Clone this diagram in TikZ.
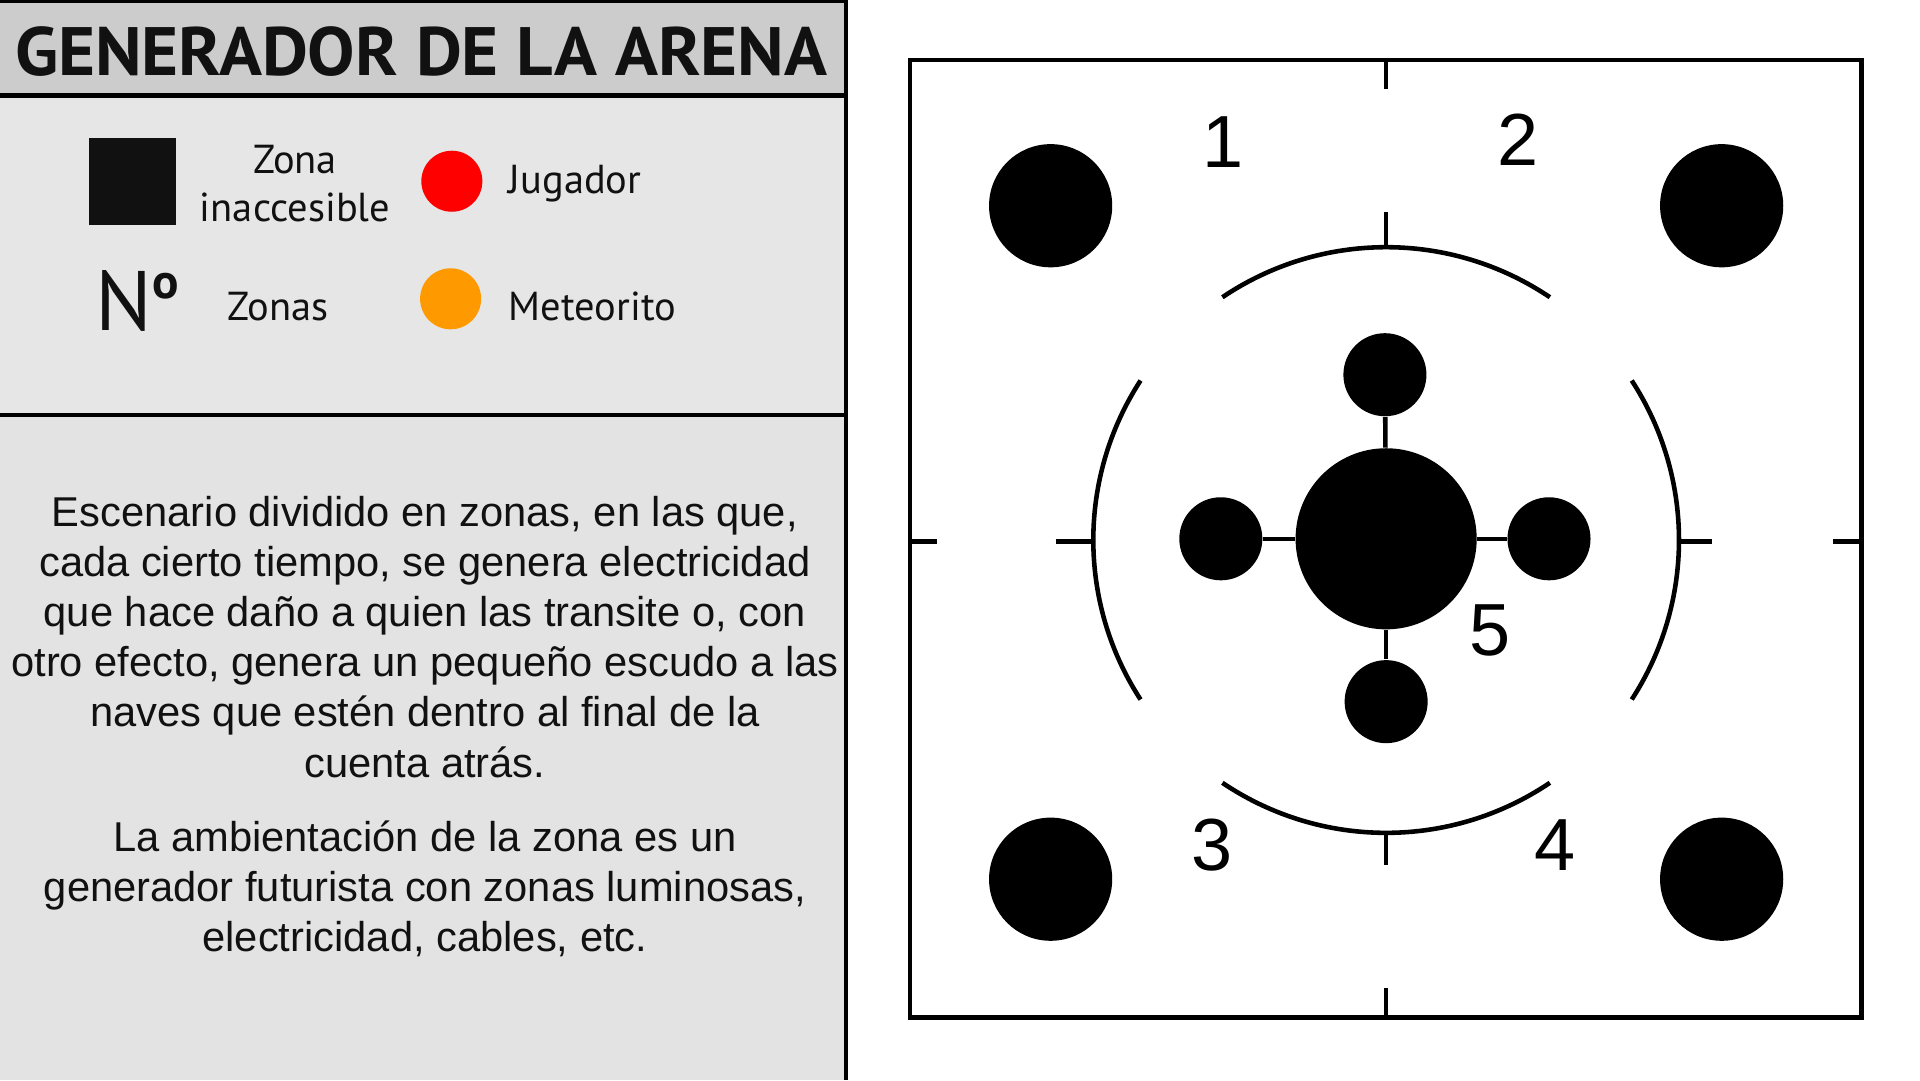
\documentclass[tikz,border=0pt]{standalone}
\usepackage{graphicx}
\usepackage{fontspec}
\setmainfont{Liberation Sans}
\newfontfamily\legendfont{PT Sans}
\usetikzlibrary{positioning}

\definecolor{bandgray}{HTML}{CCCCCC}
\definecolor{keygray}{HTML}{E6E6E6}
\definecolor{notegray}{HTML}{E3E3E3}
\definecolor{meteor}{HTML}{FF9900}
\definecolor{ink}{HTML}{111111}

\tikzset{
  rim/.style={line width=1.3pt},
  wire/.style={line width=1.3pt},
  hub/.style={circle, fill=black, inner sep=0pt, minimum size=1.81cm},
  pod/.style={circle, fill=black, inner sep=0pt, minimum size=0.83cm},
  pillar/.style={circle, fill=black, draw=black, line width=0.6pt, inner sep=0pt, minimum size=1.21cm},
  zonenum/.style={font=\fontsize{21}{21}\selectfont, inner sep=0pt},
  keytext/.style={font=\legendfont\fontsize{11.5}{13.6}\selectfont, inner sep=0pt, text=ink},
  note/.style={font=\fontsize{11.85}{14.28}\selectfont, align=center, inner sep=0pt, text=ink},
}

\begin{document}
\begin{tikzpicture}[x=0.012245cm, y=-0.012245cm]

  \useasboundingbox[fill=white] (0,0) rectangle (1568,882);

  %--- left panel: title, legend, notes ---
  \fill[bandgray] (0,0) rectangle (691,78);
  \fill[keygray] (0,78) rectangle (691,339);
  \fill[notegray] (0,339) rectangle (691,882);
  \draw[line width=1pt] (0,1) -- (691,1);
  \draw[line width=1.3pt] (0,78) -- (691,78);
  \draw[line width=1.3pt] (0,339) -- (691,339);
  \draw[line width=1pt] (691,0) -- (691,882);

  \node[inner sep=0pt, text=ink] (title) at (344,42)
    {\resizebox{231pt}{13.9pt}{\legendfont\bfseries GENERADOR DE LA ARENA}};

  %--- legend ---
  \node[fill=ink, inner sep=0pt, minimum size=0.87cm] (blocksq) at (108.5,148) {};
  \node[keytext, align=center] (blocklbl) at (241,150) {Zona\\inaccesible};
  \node[circle, fill=red, inner sep=0pt, minimum size=0.61cm] (playerdot) at (369,148) {};
  \node[keytext, anchor=west] (playerlbl) at (415,150) {Jugador};
  \node[inner sep=0pt, text=ink, font=\legendfont\fontsize{24}{24}\selectfont] (numsign) at (112,246)
    {N\raisebox{9.3pt}{\bfseries\fontsize{14}{14}\selectfont o}};
  \node[keytext] (numlbl) at (227,250) {Zonas};
  \node[circle, fill=meteor, inner sep=0pt, minimum size=0.61cm] (meteordot) at (368,244) {};
  \node[keytext, anchor=west] (meteorlbl) at (415,250) {Meteorito};

  %--- description ---
  \node[note] (notea) at (347,520) {Escenario dividido en zonas, en las que,\\
    cada cierto tiempo, se genera electricidad\\
    que hace daño a quien las transite o, con\\
    otro efecto, genera un pequeño escudo a las\\
    naves que estén dentro al final de la\\
    cuenta atrás.};
  \node[note] (noteb) at (347,726) {La ambientación de la zona es un\\
    generador futurista con zonas luminosas,\\
    electricidad, cables, etc.};

  %--- arena frame and ticks ---
  \draw[rim] (743,49) rectangle (1520,831);
  \draw[rim] (1132,49) -- (1132,73);
  \draw[rim] (1132,807) -- (1132,831);
  \draw[rim] (743,442) -- (765,442);
  \draw[rim] (1497,442) -- (1520,442);
  \draw[rim] (1132,173) -- (1132,203);
  \draw[rim] (1132,680) -- (1132,706);
  \draw[rim] (862,442) -- (893,442);
  \draw[rim] (1370,442) -- (1398,442);

  %--- ring arcs ---
  \coordinate (mid) at (1132,441);
  \foreach \a/\b in {56/124, 147/213, 236/304, -33/33}
    \draw[rim] (mid) ++(\a:2.9266cm) arc[start angle=\a, end angle=\b, radius=2.9266cm];

  %--- generator core ---
  \node[hub] (core) at (1132,440) {};
  \node[pod] (podn) at (1131,306) {};
  \node[pod] (pods) at (1132,573) {};
  \node[pod] (podw) at (997,440) {};
  \node[pod] (pode) at (1265,440) {};
  \foreach \p in {podn, pods, podw, pode}
    \draw[wire] (core) -- (\p);

  %--- corner pillars ---
  \foreach \cx/\cy/\nm in {858/168/nw, 1406/168/ne, 858/718/sw, 1406/718/se}
    \node[pillar] (pillar-\nm) at (\cx,\cy) {};

  %--- zone numbers ---
  \node[zonenum] (zone1) at (999,116) {1};
  \node[zonenum] (zone2) at (1240,114) {2};
  \node[zonenum] (zone3) at (990,690) {3};
  \node[zonenum] (zone4) at (1270,690) {4};
  \node[zonenum] (zone5) at (1217,515) {5};

\end{tikzpicture}
\end{document}
